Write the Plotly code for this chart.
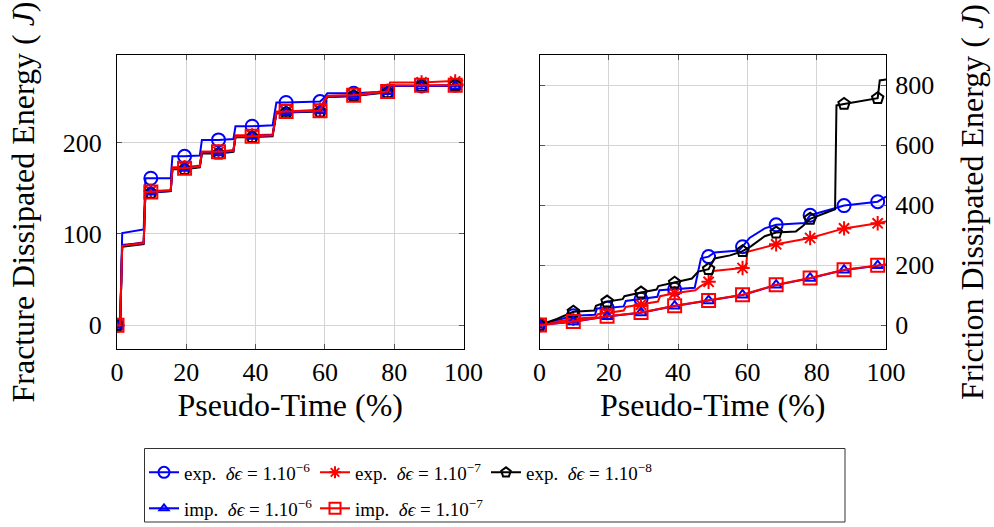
import plotly.graph_objects as go

# ---------------- data ----------------
mark_x = [0, 9.76, 19.5, 29.3, 39.0, 48.8, 58.6, 68.3, 78.1, 87.9, 97.6]

# Left panel: fracture dissipated energy (J)
L_x = [0, 0.9, 1.5, 7.7, 8.2, 9.76, 15.5, 16.0, 19.5, 23.9, 24.5, 29.3, 33.6, 34.2, 39.0,
       44.9, 46.0, 48.8, 58.6, 59.5, 60.7, 68.3, 78.1, 78.8, 87.9, 97.6, 100]
L_exp6 = [0, 0, 101, 105, 161, 161, 161, 185, 185, 186, 203, 203, 204, 218, 218,
          219, 244, 244, 245, 248, 254, 254, 256, 262, 262, 263, 264]
L_exp7 = [0, 0, 87, 91, 147, 147, 148, 173, 173, 175, 190, 190, 192, 208, 208,
          209, 234, 234, 236, 244, 251, 252, 257, 266, 266, 267, 268]
L_exp8 = [0, 0, 86, 89, 145, 145, 147, 171, 171, 173, 188, 188, 190, 206, 206,
          207, 232, 233, 234, 242, 250, 251, 255, 262, 262, 263, 263]
L_imp6 = [0, 0, 88, 90, 146, 146, 147, 172, 172, 174, 189, 189, 191, 207, 207,
          208, 233, 233, 235, 243, 250, 251, 256, 262, 262, 262, 263]
L_imp7 = [0, 0, 87, 90, 146, 146, 148, 172, 172, 174, 190, 190, 191, 207, 207,
          208, 233, 234, 235, 243, 251, 252, 256, 263, 263, 263, 264]
L_mk_exp6 = [0, 161, 185, 203, 218, 244, 245, 254, 256, 262, 263]
L_mk_exp7 = [0, 147, 173, 190, 208, 234, 236, 252, 257, 266, 267]
L_mk_exp8 = [0, 145, 171, 188, 206, 233, 234, 251, 255, 262, 263]
L_mk_imp6 = [0, 146, 172, 189, 207, 233, 235, 251, 256, 262, 262]
L_mk_imp7 = [0, 146, 172, 190, 207, 234, 235, 252, 256, 263, 263]

# Right panel: friction dissipated energy (J)
R_x_exp8 = [0, 5, 9.76, 15.8, 16.3, 19.5, 24.0, 24.5, 29.3, 33.8, 34.3, 39.0, 44.0, 45.8,
            48.8, 50.5, 55, 58.6, 61, 65, 68.3, 74, 76, 78.1, 85.3, 85.7, 87.9, 97.6, 98.2, 100]
R_exp8 = [0, 20, 44, 48, 64, 78, 86, 96, 108, 118, 130, 141, 155, 178,
          186, 222, 232, 246, 262, 296, 308, 312, 330, 354, 386, 732, 737, 756, 815, 818]
R_x_exp6 = [0, 5, 9.76, 16.0, 16.6, 19.5, 24.3, 24.9, 29.3, 34.0, 34.6, 39.0, 44.8, 46.6,
            48.8, 50.5, 57.5, 58.6, 60.6, 65, 68.3, 76.5, 78.1, 85.5, 87.9, 97.6, 100]
R_exp6 = [0, 15, 31, 34, 55, 57, 62, 80, 86, 94, 116, 119, 124, 222,
          228, 242, 248, 261, 290, 322, 334, 340, 366, 390, 398, 411, 428]
R_x_exp7 = [0, 5, 9.76, 16.2, 16.8, 19.5, 24.3, 24.9, 29.3, 34.2, 34.8, 39.0, 45.0, 46.5,
            48.8, 50.2, 58.6, 59.6, 60.0, 68.3, 78.1, 87.9, 97.6, 100]
R_exp7 = [0, 10, 21, 26, 36, 40, 48, 60, 68, 78, 96, 106, 116, 130,
          144, 180, 190, 192, 244, 269, 290, 322, 339, 345]
R_x_imp = [0, 9.76, 19.5, 29.3, 39.0, 48.8, 58.6, 68.3, 78.1, 87.9, 97.6, 100]
R_imp6 = [0, 11, 28, 41, 63, 81, 100, 133, 156, 183, 198, 201]
R_imp7 = [0, 12, 29, 42, 64, 82, 101, 134, 157, 184, 199, 202]
R_mk_exp6 = [0, 31, 57, 86, 119, 228, 261, 334, 366, 398, 411]
R_mk_exp7 = [0, 21, 40, 68, 106, 144, 190, 269, 290, 322, 339]
R_mk_exp8 = [0, 44, 78, 108, 141, 186, 246, 308, 354, 737, 756]
R_mk_imp6 = [0, 11, 28, 41, 63, 81, 100, 133, 156, 183, 198]
R_mk_imp7 = [0, 12, 29, 42, 64, 82, 101, 134, 157, 184, 199]

x_ticks = [0, 20, 40, 60, 80, 100]
yL_ticks = [0, 100, 200]
yR_ticks = [0, 200, 400, 600, 800]

names = ["exp.  <i>δϵ</i> = 1.10<sup>−6</sup>",
         "exp.  <i>δϵ</i> = 1.10<sup>−7</sup>",
         "exp.  <i>δϵ</i> = 1.10<sup>−8</sup>",
         "imp.  <i>δϵ</i> = 1.10<sup>−6</sup>",
         "imp.  <i>δϵ</i> = 1.10<sup>−7</sup>"]

# ---------------- styles ----------------
BLUE, RED, BLACK = "#0000ff", "#ff0000", "#000000"
styles = [
    dict(color=BLUE, symbol="circle-open", size=13),
    dict(color=RED, symbol="asterisk-open", size=12),
    dict(color=BLACK, symbol="pentagon-open", size=12),
    dict(color=BLUE, symbol="triangle-up-open", size=10),
    dict(color=RED, symbol="square-open", size=13),
]

left_series = [(L_x, L_exp6, L_mk_exp6), (L_x, L_exp7, L_mk_exp7), (L_x, L_exp8, L_mk_exp8),
               (L_x, L_imp6, L_mk_imp6), (L_x, L_imp7, L_mk_imp7)]
right_series = [(R_x_exp6, R_exp6, R_mk_exp6), (R_x_exp7, R_exp7, R_mk_exp7),
                (R_x_exp8, R_exp8, R_mk_exp8), (R_x_imp, R_imp6, R_mk_imp6),
                (R_x_imp, R_imp7, R_mk_imp7)]

fig = go.Figure()

def add_series(xs, ys, mys, st, xa, ya):
    fig.add_trace(go.Scatter(x=xs, y=ys, mode="lines", xaxis=xa, yaxis=ya,
                             line=dict(color=st["color"], width=2), showlegend=False,
                             hoverinfo="skip"))
    fig.add_trace(go.Scatter(x=mark_x, y=mys, mode="markers", xaxis=xa, yaxis=ya,
                             marker=dict(symbol=st["symbol"], size=st["size"],
                                         color=st["color"],
                                         line=dict(color=st["color"], width=2)),
                             showlegend=False))

for (xs, ys, mys), st in zip(left_series, styles):
    add_series(xs, ys, mys, st, "x", "y")
for (xs, ys, mys), st in zip(right_series, styles):
    add_series(xs, ys, mys, st, "x2", "y2")

for i, (nm, st) in enumerate(zip(names, styles)):
    fig.add_trace(go.Scatter(x=[None], y=[None], mode="lines+markers", name=nm,
                             line=dict(color=st["color"], width=2),
                             marker=dict(symbol=st["symbol"], size=st["size"] - 2,
                                         color=st["color"],
                                         line=dict(color=st["color"], width=2)),
                             legend="legend" if i < 3 else "legend2",
                             xaxis="x", yaxis="y"))

FONT = "Liberation Serif, DejaVu Serif, serif"
W, H = 994, 527
axis_common = dict(showline=True, linecolor="black", linewidth=1, mirror="ticks",
                   ticks="inside", ticklen=5, tickcolor="#555555", tickwidth=1,
                   showgrid=True, gridcolor="#d4d4d4", gridwidth=1, zeroline=False,
                   automargin=False,
                   tickfont=dict(family=FONT, size=26, color="black"))
TFS = 32
legend_common = dict(orientation="h", x=144 / W, xanchor="left", yanchor="middle",
                     bgcolor="rgba(0,0,0,0)", borderwidth=0,
                     font=dict(family=FONT, size=19), itemsizing="trace",
                     tracegroupgap=0, entrywidth=126, entrywidthmode="pixels")

fig.update_layout(
    width=W, height=H, margin=dict(l=0, r=0, t=0, b=0, autoexpand=False),
    paper_bgcolor="white", plot_bgcolor="white",
    font=dict(family=FONT, color="black"),
    xaxis=dict(domain=[117 / W, 463.5 / W], range=[0, 100], tickvals=x_ticks,
               title=dict(text="Pseudo-Time (%)", font=dict(family=FONT, size=TFS), standoff=6),
               anchor="y", **axis_common),
    yaxis=dict(domain=[1 - 349 / H, 1 - 55 / H], range=[-26, 296], tickvals=yL_ticks,
               title=dict(text="Fracture Dissipated Energy ( <i>J</i>)",
                          font=dict(family=FONT, size=TFS), standoff=18),
               ticklabelstandoff=9, anchor="x", **axis_common),
    xaxis2=dict(domain=[539.5 / W, 886 / W], range=[0, 100], tickvals=x_ticks,
                title=dict(text="Pseudo-Time (%)", font=dict(family=FONT, size=TFS), standoff=6),
                anchor="y2", **axis_common),
    yaxis2=dict(domain=[1 - 349 / H, 1 - 55 / H], range=[-80, 900], tickvals=yR_ticks,
                side="right", anchor="x2",
                title=dict(text="Friction Dissipated Energy ( <i>J</i>)",
                           font=dict(family=FONT, size=TFS), standoff=27),
                ticklabelstandoff=3, **axis_common),
    legend=dict(y=1 - 472.5 / H, **legend_common),
    legend2=dict(y=1 - 508.5 / H, **legend_common),
    shapes=[dict(type="rect", xref="paper", yref="paper",
                 x0=144.5 / W, x1=845 / W, y0=1 - 522 / H, y1=1 - 448.5 / H,
                 line=dict(color="#333333", width=1), fillcolor="rgba(0,0,0,0)")],
)

fig.write_html("out.html")
